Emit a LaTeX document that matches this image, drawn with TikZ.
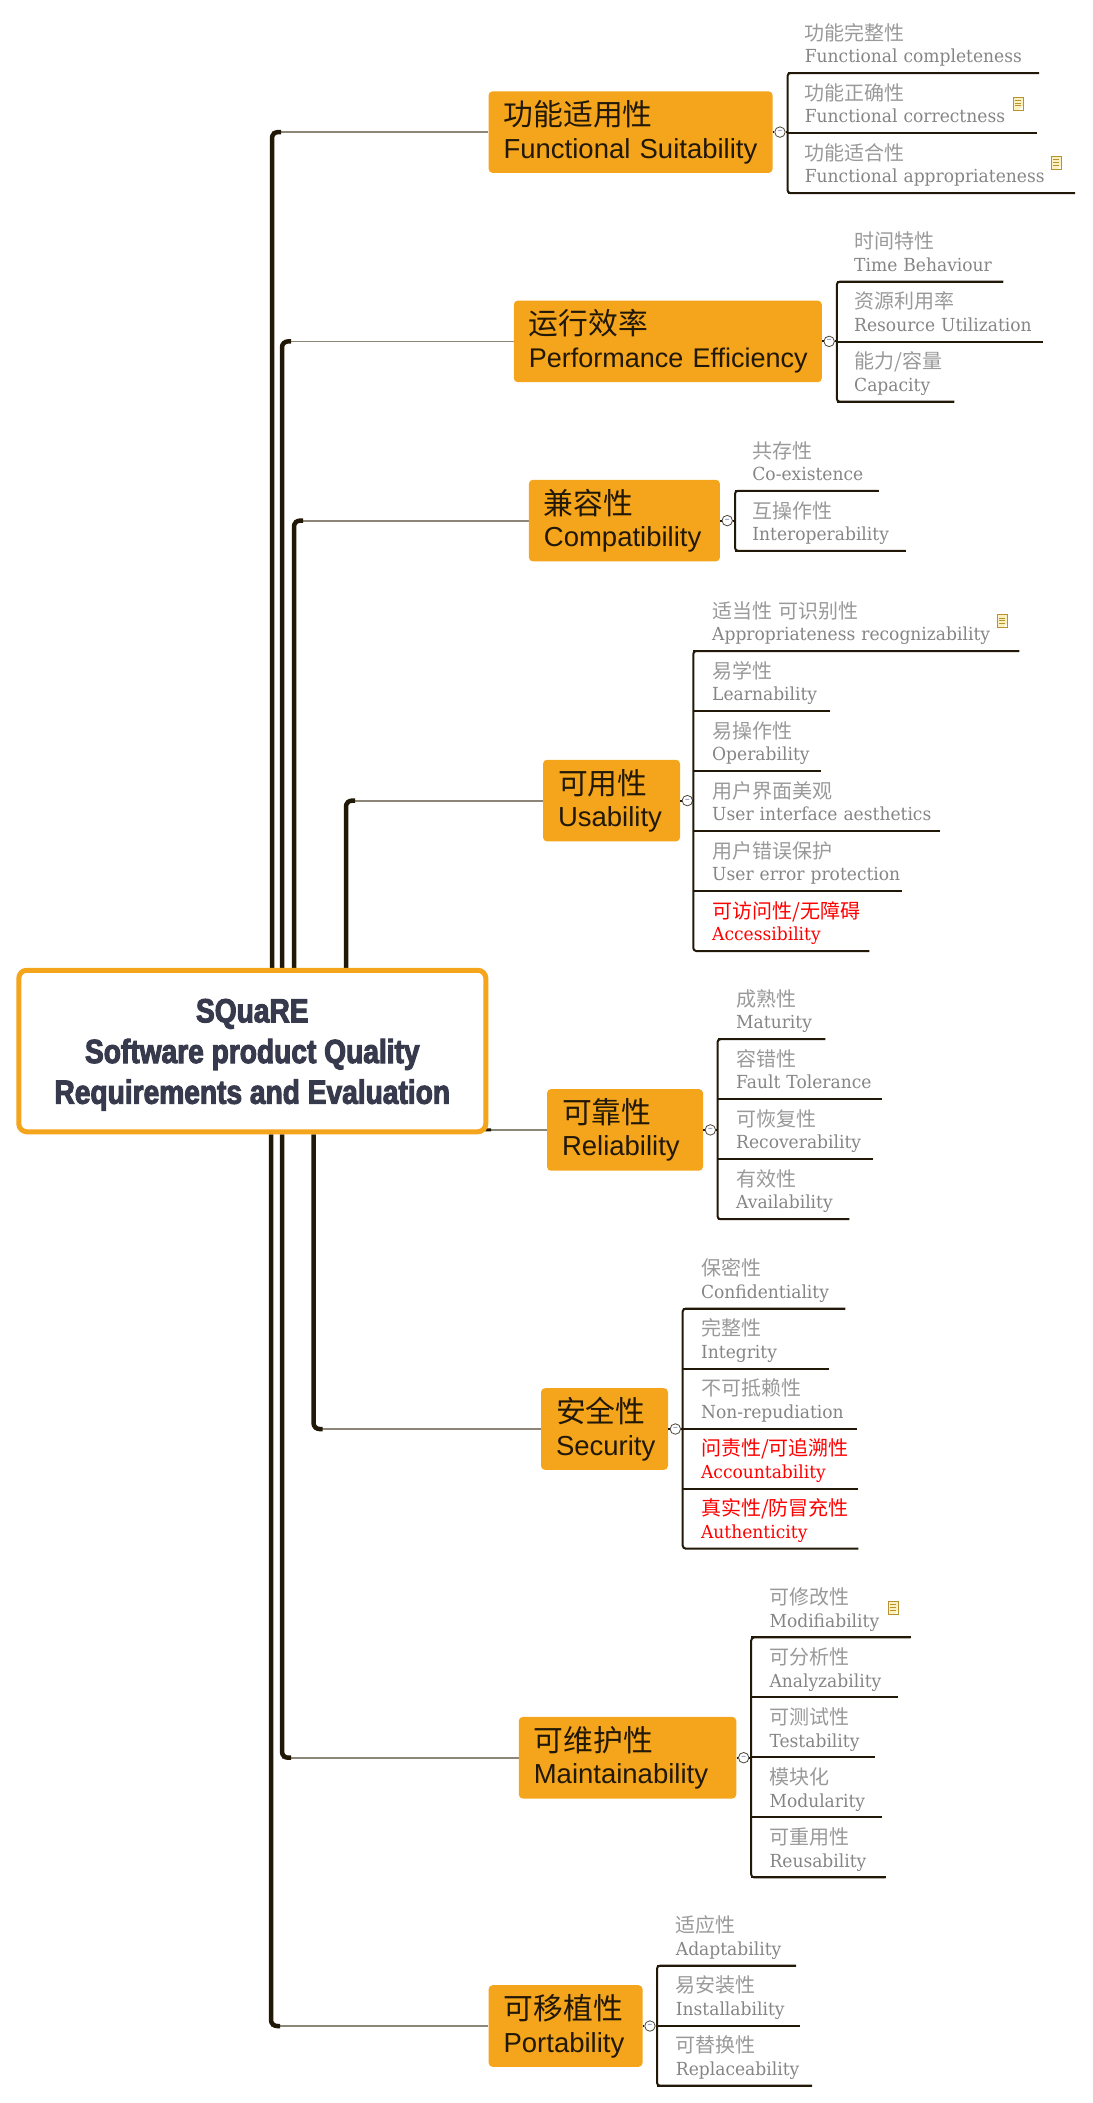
\documentclass[tikz,border=0pt]{standalone}
\usepackage{fontspec}
\setmainfont{Liberation Sans}
\newfontfamily\cjkfont{Noto Sans CJK SC}
\newfontfamily\slabfont[FakeStretch=0.95]{DejaVu Serif}
\newfontfamily\rootfont[FakeStretch=0.84,FakeBold=3]{Liberation Sans Bold}
\usetikzlibrary{positioning,backgrounds}
\definecolor{amber}{HTML}{F5A51C}
\definecolor{bark}{HTML}{211808}
\definecolor{stem}{HTML}{8B8678}
\definecolor{slate}{HTML}{373A4C}
\definecolor{ash}{HTML}{858585}
\definecolor{paleash}{HTML}{999999}
\definecolor{accent}{HTML}{FF0000}
\definecolor{notepaper}{HTML}{FBF0C0}
\definecolor{noteedge}{HTML}{B8922F}
\definecolor{foldmark}{HTML}{7F8FC8}
\begin{document}
\begin{tikzpicture}[
	x=1pt, y=-1pt,
	rootbox/.style={
		rectangle, rounded corners=8pt,
		draw=amber, line width=5pt, fill=white,
		minimum width=467pt, minimum height=161.5pt,
		align=center, text=slate,
		font=\rootfont\fontsize{33.5}{40.7}\selectfont
	},
	branch/.style={
		rectangle, rounded corners=4pt,
		fill=amber, anchor=west,
		minimum height=81.6pt, inner xsep=15pt, inner ysep=0pt,
		align=left, text=bark,
		font=\fontsize{27.5}{32.5}\selectfont
	},
	leaf/.style={
		anchor=south west, inner xsep=0pt, inner ysep=3.3pt,
		align=left, text=ash,
		font=\slabfont\fontsize{18}{22.5}\selectfont
	},
	fold/.style={
		circle, draw=bark!80, fill=white, line width=.8pt,
		minimum size=10.5pt, inner sep=0pt, text=foldmark,
		font=\bfseries\fontsize{8}{8}\selectfont
	},
	note/.style={
		rectangle, draw=noteedge, fill=notepaper, line width=1pt,
		minimum width=10pt, minimum height=13pt, inner sep=0pt,
		path picture={
			\foreach \k in {.25,.45,.65}
				\draw[noteedge, line width=.8pt]
					([xshift=2pt,yshift=-\k*13pt]path picture bounding box.north west)
					-- ([xshift=-2pt,yshift=-\k*13pt]path picture bounding box.north east);
			\fill[white] (path picture bounding box.south east) -- ++(-4pt,0pt) -- ++(4pt,4pt) -- cycle;
		}
	},
	trunk/.style={draw=bark, line width=4.5pt, rounded corners=6pt},
	twig/.style={draw=stem, line width=1.8pt},
	leafline/.style={draw=bark, line width=2pt, rounded corners=3pt},
	]
	\useasboundingbox (0,0) rectangle (1092,2103);

	\node [rootbox] (root) at (252.3,1051) {\rule{0pt}{31pt}SQuaRE\\Software product Quality\\Requirements and Evaluation};

	% branches
	\node [branch, text width=254pt] (fs) at (488.4,132.1) {{\cjkfont\fontsize{29.8}{33}\selectfont 功能适用性}\\Functional Suitability};
	\node [branch, text width=278pt] (pe) at (513.6,341.4) {{\cjkfont\fontsize{29.8}{33}\selectfont 运行效率}\\\mbox{\fontsize{27}{32.5}\selectfont Performance Efficiency}};
	\node [branch, text width=161pt] (co) at (528.7,520.6) {{\cjkfont\fontsize{29.8}{33}\selectfont 兼容性}\\Compatibility};
	\node [branch, text width=107pt] (us) at (542.8,800.6) {{\cjkfont\fontsize{29.8}{33}\selectfont 可用性}\\Usability};
	\node [branch, text width=126pt] (re) at (546.8,1129.9) {{\cjkfont\fontsize{29.8}{33}\selectfont 可靠性}\\Reliability};
	\node [branch, text width=97pt] (se) at (540.8,1429) {{\cjkfont\fontsize{29.8}{33}\selectfont 安全性}\\Security};
	\node [branch, text width=187.5pt] (ma) at (518.6,1757.7) {{\cjkfont\fontsize{29.8}{33}\selectfont 可维护性}\\Maintainability};
	\node [branch, text width=124pt] (po) at (488.4,2026) {{\cjkfont\fontsize{29.8}{33}\selectfont 可移植性}\\Portability};

	% fold marks
	\node [fold, right=1.5pt of fs] (fsfold) {−};
	\node [fold, right=1.5pt of pe] (pefold) {−};
	\node [fold, right=1.5pt of co] (cofold) {−};
	\node [fold, right=1.5pt of us] (usfold) {−};
	\node [fold, right=1.5pt of re] (refold) {−};
	\node [fold, right=1.5pt of se] (sefold) {−};
	\node [fold, right=1.5pt of ma] (mafold) {−};
	\node [fold, right=1.5pt of po] (pofold) {−};

	\coordinate (fsspine) at (787.5,132.1);
	\coordinate (pespine) at (836.8,341.4);
	\coordinate (cospine) at (735,520.6);
	\coordinate (usspine) at (693.3,800.6);
	\coordinate (respine) at (717.5,1129.9);
	\coordinate (sespine) at (682.7,1429);
	\coordinate (maspine) at (751.2,1757.7);
	\coordinate (pospine) at (657,2026);

	% leaves
	\foreach \n/\w/\cn/\en [count=\i] in {
		fscomp/234/功能完整性/Functional completeness,
		fscorr/232/功能正确性/Functional correctness,
		fsappr/270/功能适合性/Functional appropriateness} {
		\node [leaf, text width=\w pt] (\n) at (804.6,{73.1+60*(\i-1)}) {{\cjkfont\color{paleash}\fontsize{20}{22.5}\selectfont\cn}\strut\\\en\strut};
		\draw [leafline] (fsspine |- \n.south) -- (\n.south east);
	}
	\foreach \n/\w/\cn/\en [count=\i] in {
		petime/149/时间特性/Time Behaviour,
		peres/189/资源利用率/Resource Utilization,
		pecap/100/{能力/容量}/Capacity} {
		\node [leaf, text width=\w pt] (\n) at (854,{281.7+60*(\i-1)}) {{\cjkfont\color{paleash}\fontsize{20}{22.5}\selectfont\cn}\strut\\\en\strut};
		\draw [leafline] (pespine |- \n.south) -- (\n.south east);
	}
	\foreach \n/\w/\cn/\en [count=\i] in {
		cocoex/126/共存性/Co-existence,
		cointer/153/互操作性/Interoperability} {
		\node [leaf, text width=\w pt] (\n) at (752.2,{490.8+60*(\i-1)}) {{\cjkfont\color{paleash}\fontsize{20}{22.5}\selectfont\cn}\strut\\\en\strut};
		\draw [leafline] (cospine |- \n.south) -- (\n.south east);
	}
	\foreach \n/\w/\cn/\en [count=\i] in {
		usappr/307/适当性 可识别性/Appropriateness recognizability,
		uslearn/118/易学性/Learnability,
		usoper/109/易操作性/Operability,
		usface/228/用户界面美观/User interface aesthetics,
		userror/190/用户错误保护/User error protection} {
		\node [leaf, text width=\w pt] (\n) at (712,{651+60*(\i-1)}) {{\cjkfont\color{paleash}\fontsize{20}{22.5}\selectfont\cn}\strut\\\en\strut};
		\draw [leafline] (usspine |- \n.south) -- (\n.south east);
	}
	\node [leaf, text=accent, text width=157pt] (usacc) at (712,951) {{\cjkfont\fontsize{20}{22.5}\selectfont 可访问性/无障碍}\strut\\Accessibility\strut};
	\foreach \n/\w/\cn/\en [count=\i] in {
		rematur/89/成熟性/Maturity,
		refault/146/容错性/Fault Tolerance,
		rerecov/137/可恢复性/Recoverability,
		reavail/113/有效性/Availability} {
		\node [leaf, text width=\w pt] (\n) at (736,{1039.2+60*(\i-1)}) {{\cjkfont\color{paleash}\fontsize{20}{22.5}\selectfont\cn}\strut\\\en\strut};
		\draw [leafline] (respine |- \n.south) -- (\n.south east);
	}
	\foreach \n/\w/\cn/\en [count=\i] in {
		seconf/144/保密性/Confidentiality,
		seinte/128/完整性/Integrity,
		senonr/156/不可抵赖性/Non-repudiation} {
		\node [leaf, text width=\w pt] (\n) at (700.9,{1308.6+60*(\i-1)}) {{\cjkfont\color{paleash}\fontsize{20}{22.5}\selectfont\cn}\strut\\\en\strut};
		\draw [leafline] (sespine |- \n.south) -- (\n.south east);
	}
	\node [leaf, text=accent, text width=157pt] (seacco) at (700.9,1488.6) {{\cjkfont\fontsize{20}{22.5}\selectfont 问责性/可追溯性}\strut\\Accountability\strut};
	\node [leaf, text=accent, text width=157pt] (seauth) at (700.9,1548.6) {{\cjkfont\fontsize{20}{22.5}\selectfont 真实性/防冒充性}\strut\\Authenticity\strut};
	\foreach \n/\w/\cn/\en [count=\i] in {
		mamodi/141/可修改性/Modifiability,
		maanal/128/可分析性/Analyzability,
		matest/105/可测试性/Testability,
		mamodu/112/模块化/Modularity,
		mareus/116/可重用性/Reusability} {
		\node [leaf, text width=\w pt] (\n) at (769.3,{1637.4+60*(\i-1)}) {{\cjkfont\color{paleash}\fontsize{20}{22.5}\selectfont\cn}\strut\\\en\strut};
		\draw [leafline] (maspine |- \n.south) -- (\n.south east);
	}
	\foreach \n/\w/\cn/\en [count=\i] in {
		poadap/120/适应性/Adaptability,
		poinst/124/易安装性/Installability,
		porepl/136/可替换性/Replaceability} {
		\node [leaf, text width=\w pt] (\n) at (675.7,{1965.7+60*(\i-1)}) {{\cjkfont\color{paleash}\fontsize{20}{22.5}\selectfont\cn}\strut\\\en\strut};
		\draw [leafline] (pospine |- \n.south) -- (\n.south east);
	}

	% spines
	\draw [leafline] (fscomp.south east) -- (fsspine |- fscomp.south) -- (fsspine |- fsappr.south) -- (fsappr.south east);
	\draw [leafline] (petime.south east) -- (pespine |- petime.south) -- (pespine |- pecap.south) -- (pecap.south east);
	\draw [leafline] (cocoex.south east) -- (cospine |- cocoex.south) -- (cospine |- cointer.south) -- (cointer.south east);
	\draw [leafline] (usappr.south east) -- (usspine |- usappr.south) -- (usspine |- usacc.south) -- (usacc.south east);
	\draw [leafline] (rematur.south east) -- (respine |- rematur.south) -- (respine |- reavail.south) -- (reavail.south east);
	\draw [leafline] (seconf.south east) -- (sespine |- seconf.south) -- (sespine |- seauth.south) -- (seauth.south east);
	\draw [leafline] (seacco.south east) -- (sespine |- seacco.south);
	\draw [leafline] (mamodi.south east) -- (maspine |- mamodi.south) -- (maspine |- mareus.south) -- (mareus.south east);
	\draw [leafline] (poadap.south east) -- (pospine |- poadap.south) -- (pospine |- porepl.south) -- (porepl.south east);

	\draw [leafline] (fs) -- (fsfold) (fsfold) -- (fsspine);
	\draw [leafline] (pe) -- (pefold) (pefold) -- (pespine);
	\draw [leafline] (co) -- (cofold) (cofold) -- (cospine);
	\draw [leafline] (us) -- (usfold) (usfold) -- (usspine);
	\draw [leafline] (re) -- (refold) (refold) -- (respine);
	\draw [leafline] (se) -- (sefold) (sefold) -- (sespine);
	\draw [leafline] (ma) -- (mafold) (mafold) -- (maspine);
	\draw [leafline] (po) -- (pofold) (pofold) -- (pospine);

	% notes
	\node [note] (fscorrnote) at (1018,103.7) {};
	\node [note] (fsapprnote) at (1056.3,163.1) {};
	\node [note] (usapprnote) at (1002,621.3) {};
	\node [note] (mamodinote) at (893.2,1608) {};

	% trunk lines
	\coordinate (fsbend) at (272,132.1);
	\coordinate (pebend) at (282,341.4);
	\coordinate (cobend) at (294,520.6);
	\coordinate (usbend) at (346,800.6);
	\coordinate (rebend) at (482,1129.9);
	\coordinate (sebend) at (313.5,1429);
	\coordinate (mabend) at (282,1757.7);
	\coordinate (pobend) at (271,2026);
	\begin{scope}[on background layer]
		\draw [twig] (fsbend) -- (fs);
		\draw [twig] (pebend) -- (pe);
		\draw [twig] (cobend) -- (co);
		\draw [twig] (usbend) -- (us);
		\draw [twig] (rebend) -- (re);
		\draw [twig] (sebend) -- (se);
		\draw [twig] (mabend) -- (ma);
		\draw [twig] (pobend) -- (po);
		\draw [trunk] (root.north -| fsbend) -- (fsbend) -- ++(9,0);
		\draw [trunk] (root.north -| pebend) -- (pebend) -- ++(9,0);
		\draw [trunk] (root.north -| cobend) -- (cobend) -- ++(9,0);
		\draw [trunk] (root.north -| usbend) -- (usbend) -- ++(9,0);
		\draw [trunk, line width=3pt, rounded corners=4pt] (root.south -| rebend) ++(0,-12) -- (rebend) -- ++(9,0);
		\draw [trunk] (root.south -| sebend) -- (sebend) -- ++(9,0);
		\draw [trunk] (root.south -| mabend) -- (mabend) -- ++(9,0);
		\draw [trunk] (root.south -| pobend) -- (pobend) -- ++(9,0);
	\end{scope}
\end{tikzpicture}
\end{document}
